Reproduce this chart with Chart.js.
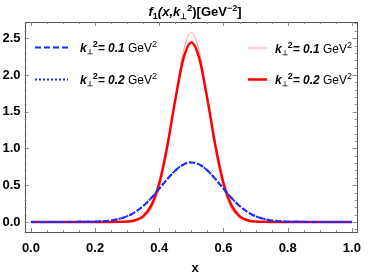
<!DOCTYPE html>
<html>
<head>
<meta charset="utf-8">
<script src="https://cdn.jsdelivr.net/npm/chart.js@4.4.1/dist/chart.umd.min.js"></script>
<style>
  html, body { margin: 0; padding: 0; background: #fff; }
</style>
</head>
<body>
<canvas id="c" width="370" height="277"></canvas>
<script>
// x grid of the curves
const xs = [0, 0.025, 0.05, 0.075, 0.1, 0.125, 0.15, 0.175, 0.2, 0.225, 0.25, 0.275, 0.3, 0.325, 0.35, 0.375, 0.4, 0.425, 0.45, 0.475,
  0.5, 0.525, 0.55, 0.575, 0.6, 0.625, 0.65, 0.675, 0.7, 0.725, 0.75, 0.775, 0.8, 0.825, 0.85, 0.875, 0.9, 0.925, 0.95, 0.975, 1];

// blue, kperp^2 = 0.1 (dashed) and 0.2 (dotted) -- they lie on top of each other
const blue01 = [0, 0, 0, 0, 0, 0, 0.001, 0.002, 0.004, 0.010, 0.021, 0.042, 0.078, 0.135, 0.218, 0.325, 0.452, 0.583, 0.700, 0.781,
  0.81, 0.781, 0.700, 0.583, 0.452, 0.325, 0.218, 0.135, 0.078, 0.042, 0.021, 0.010, 0.004, 0.002, 0.001, 0, 0, 0, 0, 0, 0];
const blue02 = [0, 0, 0, 0, 0, 0, 0.001, 0.002, 0.004, 0.010, 0.021, 0.042, 0.078, 0.135, 0.218, 0.325, 0.452, 0.583, 0.700, 0.781,
  0.81, 0.781, 0.700, 0.583, 0.452, 0.325, 0.218, 0.135, 0.078, 0.042, 0.021, 0.010, 0.004, 0.002, 0.001, 0, 0, 0, 0, 0, 0];

// red, kperp^2 = 0.1 (thin) and 0.2 (thick)
const red01 = [0, 0, 0, 0, 0, 0, 0, 0, 0, 0, 0, 0, 0.003, 0.014, 0.055, 0.179, 0.467, 0.987, 1.683, 2.319,
  2.58, 2.319, 1.683, 0.987, 0.467, 0.179, 0.055, 0.014, 0.003, 0, 0, 0, 0, 0, 0, 0, 0, 0, 0, 0, 0];
const red02 = [0, 0, 0, 0, 0, 0, 0, 0, 0, 0, 0, 0.001, 0.005, 0.023, 0.079, 0.225, 0.530, 1.034, 1.666, 2.218,
  2.44, 2.218, 1.666, 1.034, 0.530, 0.225, 0.079, 0.023, 0.005, 0.001, 0, 0, 0, 0, 0, 0, 0, 0, 0, 0, 0];

const xTicks = [0, 0.2, 0.4, 0.6, 0.8, 1.0];
const yTicks = [0, 0.5, 1.0, 1.5, 2.0, 2.5];

const BLUE = 'rgb(25, 45, 255)';
const RED = 'rgb(255, 0, 0)';
const PINK = 'rgb(255, 150, 150)';
const FONT = "'Liberation Sans', Arial, sans-serif";

function pts(ys) {
  return xs.map((x, i) => ({ x: x, y: ys[i] }));
}

// draw a run of text pieces with different fonts / offsets
function drawRich(ctx, parts, x, y, align) {
  let total = 0;
  parts.forEach(p => { ctx.font = p.font; total += ctx.measureText(p.t).width; });
  if (align === 'center') x -= total / 2;
  ctx.textAlign = 'left';
  ctx.textBaseline = 'alphabetic';
  parts.forEach(p => {
    ctx.font = p.font;
    ctx.fillText(p.t, x, y + (p.dy || 0));
    x += ctx.measureText(p.t).width;
  });
}

function legendParts(val) {
  return [
    { t: 'k', font: `bold italic 12px ${FONT}` },
    { t: '\u22A5', font: `bold 7px ${FONT}`, dy: 2 },
    { t: '2', font: `bold 9px ${FONT}`, dy: -5 },
    { t: '= ' + val + ' ', font: `bold italic 12px ${FONT}` },
    { t: 'GeV', font: `12px ${FONT}` },
    { t: '2', font: `9px ${FONT}`, dy: -5 }
  ];
}

const decorations = {
  id: 'decorations',
  beforeDraw(chart) {
    const ctx = chart.ctx;
    ctx.save();
    ctx.fillStyle = '#fff';
    ctx.fillRect(0, 0, chart.width, chart.height);
    ctx.restore();
  },
  afterDraw(chart) {
    const ctx = chart.ctx;
    const a = chart.chartArea;
    const xs_ = chart.scales.x;
    const ys_ = chart.scales.y;
    ctx.save();

    // frame
    ctx.strokeStyle = '#555';
    ctx.lineWidth = 1;
    ctx.strokeRect(Math.round(a.left) + 0.5, Math.round(a.top) + 0.5,
      Math.round(a.right - a.left), Math.round(a.bottom - a.top));

    // inward ticks, majors and minors, on all four sides
    ctx.strokeStyle = '#888';
    for (let k = 0; k <= 20; k++) {
      const v = k * 0.05;
      const px = Math.round(xs_.getPixelForValue(v)) + 0.5;
      const len = k % 4 === 0 ? 4 : 2;
      ctx.beginPath();
      ctx.moveTo(px, a.bottom); ctx.lineTo(px, a.bottom - len);
      ctx.moveTo(px, a.top); ctx.lineTo(px, a.top + len);
      ctx.stroke();
    }
    for (let k = -1; k <= 27; k++) {
      const v = k * 0.1;
      const py = Math.round(ys_.getPixelForValue(v)) + 0.5;
      if (py < a.top || py > a.bottom) continue;
      const len = k % 5 === 0 ? 4 : 2;
      ctx.beginPath();
      ctx.moveTo(a.left, py); ctx.lineTo(a.left + len, py);
      ctx.moveTo(a.right, py); ctx.lineTo(a.right - len, py);
      ctx.stroke();
    }

    // legend, drawn inside the frame
    const rows = [
      { y: 47.5, style: [6, 3], color: BLUE, w: 2, x0: 35, x1: 68, tx: 80, label: '0.1' },
      { y: 79.5, style: [2, 2], color: BLUE, w: 2, x0: 35, x1: 68, tx: 80, label: '0.2' },
      { y: 48, style: [], color: PINK, w: 1, x0: 248, x1: 267, tx: 275, label: '0.1' },
      { y: 79.5, style: [], color: RED, w: 2.5, x0: 248, x1: 267, tx: 275, label: '0.2' }
    ];
    rows.forEach(r => {
      ctx.beginPath();
      ctx.setLineDash(r.style);
      ctx.strokeStyle = r.color;
      ctx.lineWidth = r.w;
      ctx.moveTo(r.x0, r.y);
      ctx.lineTo(r.x1, r.y);
      ctx.stroke();
      ctx.setLineDash([]);
      ctx.fillStyle = '#000';
      drawRich(ctx, legendParts(r.label), r.tx, r.y + 4.5);
    });

    // title
    ctx.fillStyle = '#000';
    drawRich(ctx, [
      { t: 'f', font: `bold italic 13px ${FONT}` },
      { t: '1', font: `bold 9px ${FONT}`, dy: 3 },
      { t: '(x,k', font: `bold italic 13px ${FONT}` },
      { t: '\u22A5', font: `bold 8px ${FONT}`, dy: 3 },
      { t: '2', font: `bold 9px ${FONT}`, dy: -5 },
      { t: ')[GeV', font: `bold 13px ${FONT}` },
      { t: '\u22122', font: `bold 9px ${FONT}`, dy: -5 },
      { t: ']', font: `bold 13px ${FONT}` }
    ], 195, 16, 'center');

    // x axis title
    ctx.font = `bold 13px ${FONT}`;
    ctx.textAlign = 'center';
    ctx.fillText('x', 195, 272);
    ctx.restore();
  }
};

new Chart(document.getElementById('c'), {
  type: 'line',
  data: {
    datasets: [
      { label: 'blue 0.1', data: pts(blue01), borderColor: BLUE, borderWidth: 2, borderDash: [6, 3], order: 0 },
      { label: 'blue 0.2', data: pts(blue02), borderColor: BLUE, borderWidth: 2, borderDash: [2, 2], order: 1 },
      { label: 'red 0.2', data: pts(red02), borderColor: RED, borderWidth: 2.5, order: 2 },
      { label: 'red 0.1', data: pts(red01), borderColor: PINK, borderWidth: 1, order: 3 }
    ]
  },
  options: {
    responsive: false,
    animation: false,
    events: [],
    layout: { padding: { top: 22, right: 7, left: 0, bottom: 0 } },
    elements: {
      point: { radius: 0 },
      line: { cubicInterpolationMode: 'monotone', fill: false }
    },
    plugins: { legend: { display: false }, tooltip: { enabled: false } },
    scales: {
      x: {
        type: 'linear',
        min: -0.02,
        max: 1.015,
        afterBuildTicks: s => { s.ticks = xTicks.map(v => ({ value: v })); },
        afterFit: s => { s.height = 45; },
        grid: { display: false, drawTicks: false },
        border: { display: false },
        ticks: {
          padding: 9,
          color: '#000',
          font: { family: FONT, size: 13, weight: 'bold' },
          maxRotation: 0,
          callback: v => v.toFixed(1)
        }
      },
      y: {
        min: -0.137,
        max: 2.72,
        afterBuildTicks: s => { s.ticks = yTicks.map(v => ({ value: v })); },
        afterFit: s => { s.width = 24.5; },
        grid: { display: false, drawTicks: false },
        border: { display: false },
        ticks: {
          padding: 4,
          color: '#000',
          font: { family: FONT, size: 13, weight: 'bold' },
          callback: v => v.toFixed(1)
        }
      }
    }
  },
  plugins: [decorations]
});
</script>
</body>
</html>
